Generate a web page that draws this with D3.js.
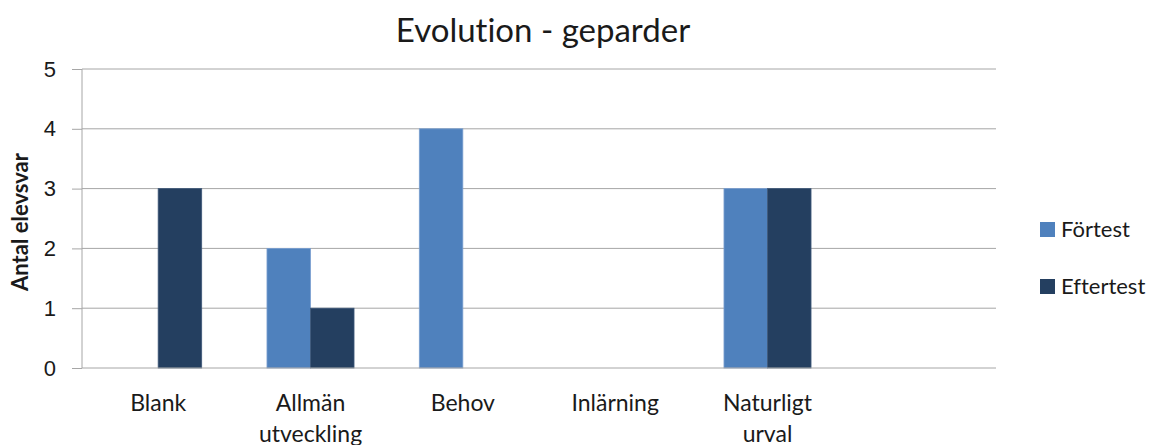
<!DOCTYPE html>
<meta charset="utf-8">
<style>
body { margin: 0; background: #fff; }
svg { font-family: Lato, "Open Sans", sans-serif; font-variant-ligatures: none; }
.grid line { stroke: #a6a6a6; stroke-width: 1px; }
.axis path, .axis line { stroke: #a6a6a6; }
.axis text { fill: #1a1a1a; font-size: 22px; }
</style>
<body>
<svg width="1160" height="445"></svg>
<script src="https://d3js.org/d3.v7.min.js"></script>
<script>

// data
var categories = ["Blank", "Allmän utveckling", "Behov", "Inlärning", "Naturligt urval", ""];
var series = ["Förtest", "Eftertest"];
var fortest = [0, 2, 4, 0, 3, 0];
var eftertest = [3, 1, 0, 0, 3, 0];
var yTicks = [0, 1, 2, 3, 4, 5];
var colors = ["#4f81bd", "#243f60"];

var margin = {top: 69, left: 82},
    width = 914,
    height = 299;

var svg = d3.select("svg");
var g = svg.append("g")
    .attr("transform", "translate(" + margin.left + "," + margin.top + ")");

var x = d3.scaleBand().domain(categories.map(function(d, i) { return i; }))
    .range([0, width]);
// gap width 150% like the original spreadsheet chart
var bw = x.bandwidth() / 3.5;
var x1 = d3.scaleBand().domain(series).range([bw * 0.75, bw * 2.75]);
var y = d3.scaleLinear().domain([0, 5]).range([height, 0]);

// gridlines
g.append("g").attr("class", "grid")
  .selectAll("line").data(yTicks.slice(1)).enter().append("line")
    .attr("x1", 0).attr("x2", width)
    .attr("y1", function(d) { return y(d); })
    .attr("y2", function(d) { return y(d); });

// bars
var values = [fortest, eftertest];
series.forEach(function(s, si) {
  g.append("g").selectAll("rect")
    .data(values[si].map(function(v, i) { return {i: i, v: v}; }).filter(function(d) { return d.v > 0; }))
    .enter().append("rect")
      .attr("x", function(d) { return x(d.i) + x1(s); })
      .attr("width", x1.bandwidth())
      .attr("y", function(d) { return y(d.v); })
      .attr("height", function(d) { return height - y(d.v); })
      .attr("fill", colors[si])
      .attr("stroke", si === 0 ? "#7a9fd0" : "#3e5878")
      .attr("stroke-width", 0.8);
});

// y axis
var yAxis = g.append("g").attr("class", "axis")
    .call(d3.axisLeft(y).tickValues(yTicks).tickSize(10).tickPadding(16).tickFormat(d3.format("d")));
yAxis.select(".domain").attr("d", "M0," + height + "V0");

// x axis baseline
g.append("line")
    .attr("x1", 0).attr("x2", width)
    .attr("y1", height).attr("y2", height)
    .attr("stroke", "#a6a6a6");

// category labels
var labels = g.append("g").selectAll("text")
  .data(categories).enter().append("text")
    .attr("text-anchor", "middle")
    .attr("font-size", 23)
    .attr("fill", "#1a1a1a")
    .attr("transform", function(d, i) { return "translate(" + (x(i) + x.bandwidth() / 2) + "," + (height + 43) + ")"; });
labels.selectAll("tspan")
  .data(function(d) { return d.split(" "); })
  .enter().append("tspan")
    .attr("x", 0)
    .attr("dy", function(d, i) { return i === 0 ? 0 : 31; })
    .text(function(d) { return d; });

// title
svg.append("text")
    .attr("x", 543).attr("y", 42)
    .attr("text-anchor", "middle")
    .attr("font-size", 33)
    .attr("fill", "#1a1a1a")
    .text("Evolution - geparder");

// y axis title
svg.append("text")
    .attr("transform", "translate(28,222) rotate(-90)")
    .attr("text-anchor", "middle")
    .attr("font-size", 22)
    .attr("font-weight", "bold")
    .attr("fill", "#1a1a1a")
    .text("Antal elevsvar");

// legend
var legend = svg.append("g").selectAll("g")
  .data(series).enter().append("g")
    .attr("transform", function(d, i) { return "translate(1040," + (222 + i * 57) + ")"; });
legend.append("rect")
    .attr("width", 15).attr("height", 15)
    .attr("fill", function(d, i) { return colors[i]; });
legend.append("text")
    .attr("x", 21).attr("y", 15)
    .attr("font-size", 22)
    .attr("fill", "#1a1a1a")
    .text(function(d) { return d; });

</script>
</body>
